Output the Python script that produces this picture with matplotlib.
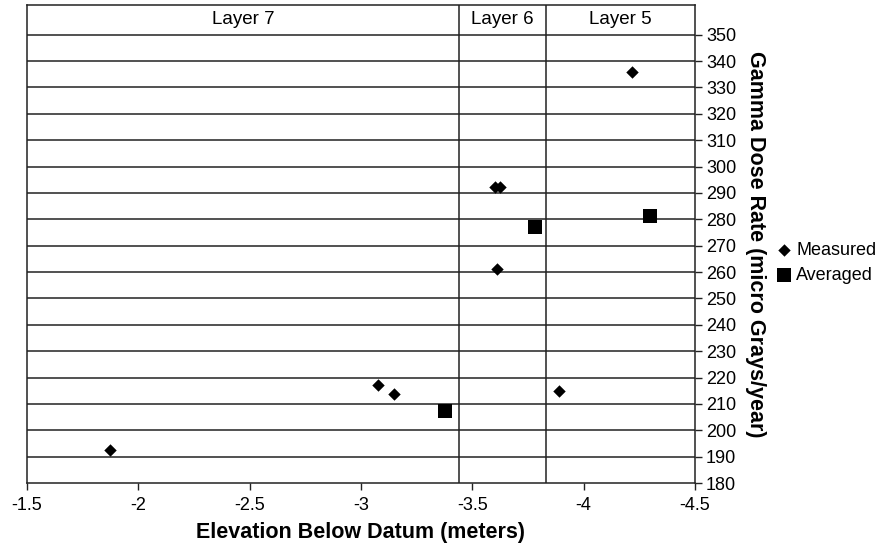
import matplotlib
matplotlib.use('Agg')
import matplotlib.pyplot as plt

plt.rcParams['font.family'] = ['Liberation Sans', 'DejaVu Sans']

# measured points
meas_x = [-1.875, -3.075, -3.15, -3.60, -3.625, -3.61, -3.89, -4.215]
meas_y = [192.5, 217.1, 213.9, 292.3, 292.3, 261.2, 214.9, 336.0]
# averaged points (one per layer)
avg_x = [-3.378, -3.782, -4.296]
avg_y = [207.5, 277.1, 281.1]

layer_names = ["Layer 7", "Layer 6", "Layer 5"]
layer_edges = [-1.5, -3.44, -3.83, -4.5]
y_ticks = list(range(180, 351, 10))

fig = plt.figure(figsize=(8.84, 5.49), dpi=100)
ax = fig.add_axes([0.0305, 0.12, 0.7557, 0.871])

ax.set_xlim(-1.5, -4.5)
ax.set_ylim(180, 361.3)

for y in y_ticks[1:]:
    ax.axhline(y, color='#222222', lw=1.1, zorder=1)
for xe in layer_edges[1:-1]:
    ax.axvline(xe, color='#222222', lw=1.1, zorder=1)

for name, a, b in zip(layer_names, layer_edges[:-1], layer_edges[1:]):
    ax.text((a + b) / 2, 355.8, name, ha='center', va='center', fontsize=13.5)

ax.scatter(meas_x, meas_y, marker='D', s=40, color='black', zorder=3, label='Measured', linewidths=0)
ax.scatter(avg_x, avg_y, marker='s', s=110, color='black', zorder=3, label='Averaged', linewidths=0)

ax.yaxis.tick_right()
ax.yaxis.set_label_position('right')
ax.set_yticks(y_ticks)
ax.set_xticks([-1.5, -2, -2.5, -3, -3.5, -4, -4.5])
ax.set_xticklabels(['-1.5', '-2', '-2.5', '-3', '-3.5', '-4', '-4.5'])
ax.tick_params(axis='both', labelsize=13, direction='out', length=5, width=1, color='#222222')
ax.tick_params(axis='x', pad=5)
ax.tick_params(axis='y', pad=3)

for sp in ax.spines.values():
    sp.set_color('#222222')
    sp.set_linewidth(1.1)

ax.set_xlabel('Elevation Below Datum (meters)', fontsize=15.5, fontweight='bold', labelpad=6)
ax.set_ylabel('Gamma Dose Rate (micro Grays/year)', fontsize=15.5, fontweight='bold',
              rotation=-90, labelpad=21)

fig.legend(loc='center left', bbox_to_anchor=(0.868, 0.521), frameon=False, fontsize=13,
           handletextpad=0.2, borderaxespad=0, labelspacing=0.45, handlelength=1.0,
           markerscale=1.0)

fig.savefig('out.png', dpi=100)
